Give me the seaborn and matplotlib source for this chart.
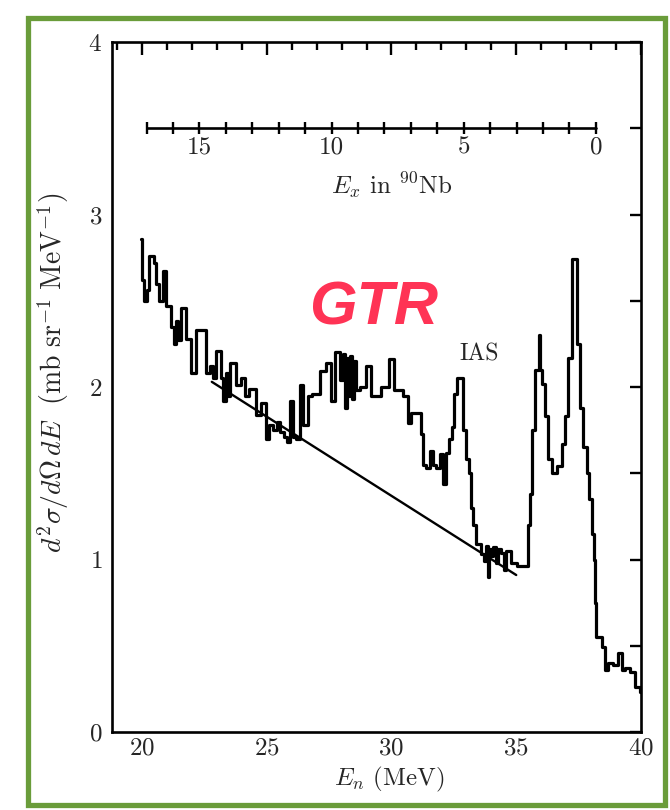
import matplotlib
matplotlib.use("Agg")
import matplotlib.pyplot as plt
import seaborn as sns
import numpy as np
import pandas as pd
from matplotlib.patches import Rectangle
from matplotlib.ticker import MultipleLocator

# ---------------- data ----------------
en_edges = [19.95, 20.00, 20.07, 20.20, 20.30, 20.50, 20.58, 20.70, 20.85, 20.97,
            21.18, 21.30, 21.38, 21.45, 21.58, 21.77, 21.97, 22.17, 22.57, 22.72,
            22.85, 22.97, 23.17, 23.25, 23.35, 23.43, 23.52, 23.78, 23.95, 24.12,
            24.30, 24.58, 24.78, 24.98, 25.10, 25.25, 25.40, 25.55, 25.68, 25.80,
            25.92, 26.05, 26.18, 26.32, 26.46, 26.65, 26.80, 27.12, 27.38, 27.58,
            27.72, 27.92, 28.05, 28.12, 28.20, 28.28, 28.35, 28.42, 28.50, 28.58,
            28.72, 28.98, 29.18, 29.58, 29.92, 30.12, 30.45, 30.65, 30.78, 31.20,
            31.26, 31.40, 31.53, 31.66, 31.80, 31.93, 32.06, 32.20, 32.30, 32.41,
            32.50, 32.62, 32.85, 33.00, 33.12, 33.20, 33.28, 33.40, 33.60, 33.72,
            33.78, 33.85, 33.92, 34.00, 34.08, 34.18, 34.25, 34.40, 34.50, 34.58,
            34.78, 35.05, 35.48, 35.56, 35.65, 35.76, 35.90, 35.96, 36.02, 36.15,
            36.28, 36.42, 36.62, 36.82, 36.95, 37.08, 37.22, 37.42, 37.55, 37.68,
            37.82, 37.92, 38.02, 38.10, 38.16, 38.20, 38.42, 38.56, 38.69, 38.89,
            39.08, 39.22, 39.36, 39.56, 39.76, 39.96, 40.00]
cross_section = [2.86, 2.62, 2.50, 2.56, 2.76, 2.72, 2.60, 2.50, 2.67, 2.47,
                 2.35, 2.25, 2.38, 2.27, 2.46, 2.28, 2.08, 2.33, 2.08, 2.12,
                 2.05, 2.21, 2.05, 1.92, 2.08, 1.95, 2.14, 2.01, 2.05, 1.95,
                 1.99, 1.84, 1.91, 1.70, 1.78, 1.75, 1.80, 1.74, 1.71, 1.68,
                 1.92, 1.71, 1.70, 2.01, 1.78, 1.95, 1.96, 2.09, 2.14, 1.92,
                 2.20, 2.04, 2.19, 1.88, 2.17, 1.95, 2.18, 1.93, 2.15, 1.98,
                 2.00, 2.12, 1.95, 2.00, 2.16, 1.98, 1.95, 1.79, 1.85, 1.73,
                 1.55, 1.53, 1.63, 1.55, 1.53, 1.61, 1.44, 1.62, 1.70, 1.77,
                 1.96, 2.05, 1.75, 1.58, 1.50, 1.30, 1.20, 1.09, 1.03, 0.99,
                 1.08, 0.90, 1.06, 1.02, 1.07, 0.98, 1.06, 1.04, 0.94, 1.05,
                 0.98, 0.96, 1.20, 1.38, 1.75, 2.10, 2.30, 2.10, 2.02, 1.83,
                 1.58, 1.50, 1.54, 1.67, 1.83, 2.17, 2.74, 2.25, 1.88, 1.65,
                 1.50, 1.35, 1.15, 1.00, 0.75, 0.55, 0.49, 0.36, 0.40, 0.39,
                 0.46, 0.36, 0.37, 0.35, 0.26, 0.23, 0.23]

background_en = [22.8, 35.0]
background_val = [2.03, 0.91]

# Ex scale in 90Nb (position in En for each integer Ex)
ex_zero_en = 38.19
ex_per_mev = 1.059
ex_ticks = list(range(0, 18))
ex_labels = [15, 10, 5, 0]
ex_bar_y = 3.5

x_ticks = [20, 25, 30, 35, 40]
y_ticks = [0, 1, 2, 3, 4]

# ---------------- style ----------------
sns.set_style("white")
plt.rcParams["font.family"] = ["cmr10", "DejaVu Serif"]
plt.rcParams["mathtext.fontset"] = "cm"
plt.rcParams["axes.formatter.use_mathtext"] = True
plt.rcParams["axes.unicode_minus"] = False

fig = plt.figure(figsize=(6.7, 8.1), dpi=100)
ax = fig.add_axes([112 / 670, 1 - 732 / 810, (641 - 112) / 670, (732 - 42) / 810])

df = pd.DataFrame({"En": en_edges, "sigma": cross_section})
sns.lineplot(data=df, x="En", y="sigma", drawstyle="steps-post", color="black",
             linewidth=2.3, ax=ax, estimator=None, sort=False)

sns.lineplot(x=background_en, y=background_val, color="black", linewidth=1.7,
             ax=ax, estimator=None)

# Ex scale bar
ex_pos = [ex_zero_en - ex_per_mev * e for e in ex_ticks]
ax.plot([min(ex_pos), max(ex_pos)], [ex_bar_y, ex_bar_y], color="black", lw=1.9)
ax.plot(ex_pos, [ex_bar_y] * len(ex_pos), linestyle="none", marker="|",
        markersize=9, markeredgewidth=1.7, color="black")
for lab in ex_labels:
    ax.text(ex_zero_en - ex_per_mev * lab, ex_bar_y - 0.11, str(lab),
            ha="center", va="center", fontsize=18)
ax.text(30.0, 3.17, r"$E_x$ in $^{90}$Nb", ha="center", va="center", fontsize=18)

ax.text(29.3, 2.45, "GTR", ha="center", va="center", fontsize=44,
        family="Liberation Sans", fontweight="bold", style="italic", color="#ff3355")
ax.text(33.5, 2.19, "IAS", ha="center", va="center", fontsize=17)

ax.set_xlim(18.8, 40)
ax.set_ylim(0, 4)
ax.set_xticks(x_ticks)
ax.set_yticks(y_ticks)
ax.xaxis.set_minor_locator(MultipleLocator(1))
ax.yaxis.set_minor_locator(MultipleLocator(0.5))
ax.tick_params(which="both", direction="in", top=True, right=True, width=1.7,
               labelsize=18, color="black")
ax.tick_params(which="major", axis="x", length=9, pad=4)
ax.tick_params(which="minor", axis="x", length=5.5)
ax.tick_params(which="both", axis="y", length=8, pad=7)
for s in ax.spines.values():
    s.set_linewidth(1.9)
    s.set_color("black")

ax.set_xlabel(r"$E_n$ (MeV)", fontsize=18)
ax.xaxis.set_label_coords(0.525, -0.048)
ax.set_ylabel(r"$d^2\sigma/d\Omega\,dE\ \ (\mathrm{mb\ sr^{-1}\ MeV^{-1}})$", fontsize=20)
ax.yaxis.set_label_coords(-0.078, 0.52)

fig.patches.append(Rectangle((28 / 670, 1 - 805 / 810), (665 - 28) / 670, (805 - 18) / 810,
                             transform=fig.transFigure, fill=False,
                             edgecolor="#6a9c3a", linewidth=3.8))

fig.savefig("out.png", dpi=100, facecolor="white")
